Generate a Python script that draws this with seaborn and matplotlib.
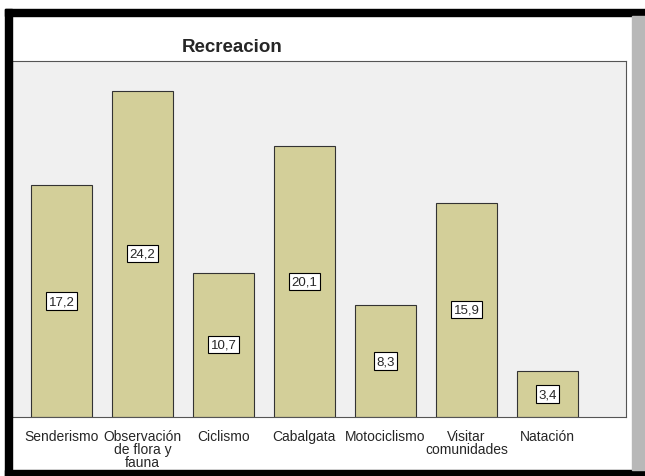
import matplotlib
matplotlib.use('Agg')
import matplotlib.pyplot as plt
import seaborn as sns
import pandas as pd
from matplotlib.patches import Rectangle

actividades = ['Senderismo', 'Observación\nde flora y\nfauna', 'Ciclismo', 'Cabalgata',
               'Motociclismo', 'Visitar\ncomunidades', 'Natación']
porcentajes = [17.2, 24.2, 10.7, 20.1, 8.3, 15.9, 3.4]

sns.set_style('white')
plt.rcParams['font.family'] = ['Liberation Sans', 'DejaVu Sans']

df = pd.DataFrame({'actividad': actividades, 'pct': porcentajes})

fig = plt.figure(figsize=(6.45, 4.77), dpi=100)
fig.patch.set_facecolor('white')
ax = fig.add_axes([12/645, 1 - 418/477, 614/645, 356/477])
ax.set_facecolor('#f0f0f0')

sns.barplot(data=df, x='actividad', y='pct', color='#d3cf99', width=0.75,
            edgecolor='#333333', linewidth=0.8, saturation=1, ax=ax)

ax.set_ylim(0, 26.4)
ax.set_xlim(-0.61, 6.97)
ax.set_yticks([])
ax.set_xlabel('')
ax.set_ylabel('')
ax.tick_params(axis='x', length=6, width=1, color='#333333', labelsize=10, pad=3)
for lab in ax.get_xticklabels():
    lab.set_linespacing(0.9)
for s in ax.spines.values():
    s.set_color('#555555')
    s.set_linewidth(0.8)

ax.bar_label(ax.containers[0], labels=[f'{v:.1f}'.replace('.', ',') for v in porcentajes],
             label_type='center', fontsize=9.5,
             bbox=dict(boxstyle='square,pad=0.2', facecolor='white', edgecolor='black', linewidth=0.8))

fig.text(232/645, 1 - 47/477, 'Recreacion', ha='center', va='center',
         fontsize=13.5, fontweight='bold')

# screenshot frame
fig.patches.append(Rectangle((5/645, 1 - 17/477), 1, 7/477, transform=fig.transFigure,
                             color='black', zorder=10))
fig.patches.append(Rectangle((5/645, 0), 7/645, 1 - 10/477, transform=fig.transFigure,
                             color='black', zorder=10))
fig.patches.append(Rectangle((5/645, 0), 1, 6/477, transform=fig.transFigure,
                             color='black', zorder=10))
fig.patches.append(Rectangle((632/645, 6/477), 13/645, 1 - 23/477, transform=fig.transFigure,
                             color='#b8b8b8', zorder=10))

fig.savefig('out.png', dpi=100)
